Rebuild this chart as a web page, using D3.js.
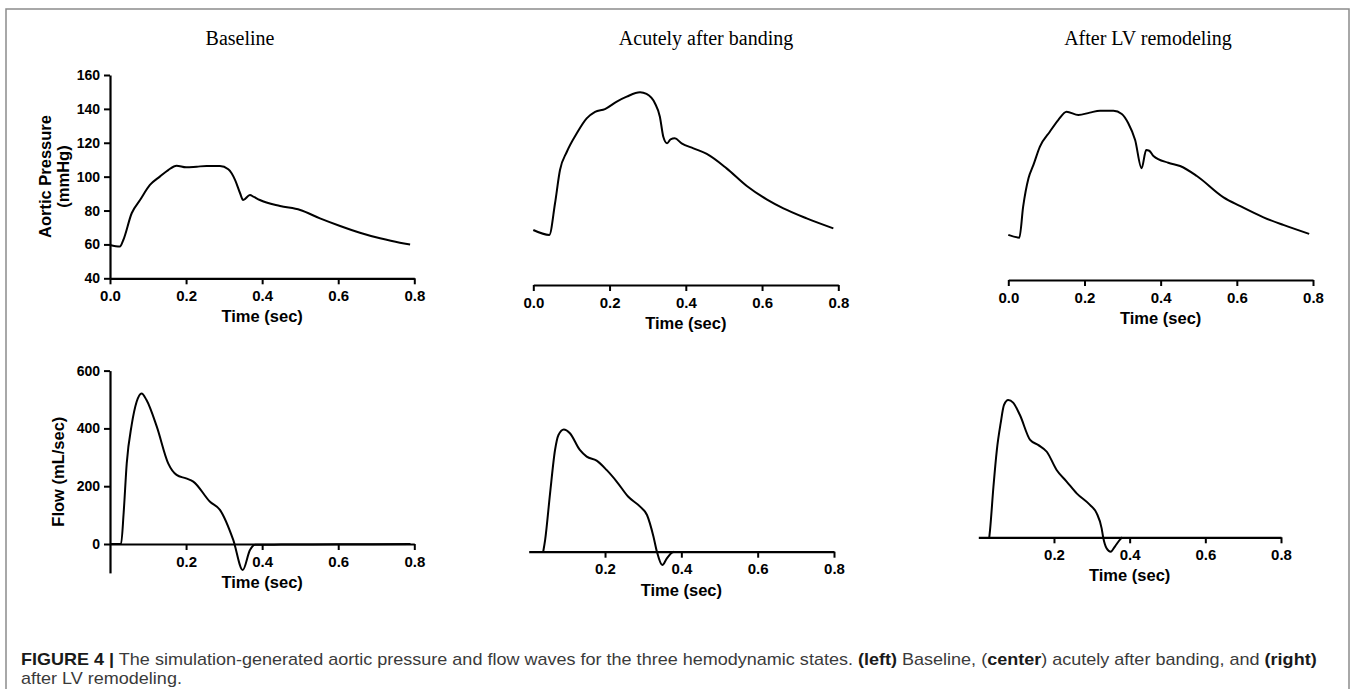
<!DOCTYPE html>
<html><head><meta charset="utf-8">
<script src="https://cdn.jsdelivr.net/npm/d3@7"></script>
<style>body{margin:0;background:#fff}svg{display:block}</style>
</head><body><svg id="c" width="1355" height="689"></svg>
<script>
// ---------- data ----------
const panelTitles = ["Baseline", "Acutely after banding", "After LV remodeling"];
const timeTicksPressure = [0, 0.2, 0.4, 0.6, 0.8];
const timeTicksFlow = [0.2, 0.4, 0.6, 0.8];
const pressureTicks = [40, 60, 80, 100, 120, 140, 160];
const flowTicks = [0, 200, 400, 600];
const xLabel = "Time (sec)";
const pressureLabel = ["Aortic Pressure", "(mmHg)"];
const flowLabel = "Flow (mL/sec)";

// aortic pressure (mmHg) vs time (s)
const timeBaselineP = [0,0.026,0.035,0.057,0.079,0.105,0.131,0.153,0.175,0.2,0.228,0.254,0.289,0.311,0.329,0.342,0.35,0.368,0.377,0.394,0.447,0.5,0.552,0.605,0.657,0.71,0.762,0.789];
const pressureBaseline = [59.7,58.7,62.6,78.4,86.2,95.1,100,103.9,106.5,105.5,105.9,106.3,106.3,104.4,98,90.2,86.2,89.2,88.2,86.2,82.7,80.3,75.4,70.9,66.9,63.6,61,60];

const timeBandingP = [0,0.042,0.057,0.07,0.088,0.114,0.14,0.162,0.188,0.219,0.245,0.28,0.297,0.319,0.332,0.341,0.351,0.36,0.371,0.389,0.42,0.455,0.507,0.56,0.612,0.656,0.717,0.787];
const pressureBanding = [68.5,65.6,84.3,103.9,114.7,125.6,134.4,138.3,139.9,144.3,147.2,149.8,148.8,143.3,135.4,123.6,119.7,122,122.6,119.7,116.7,113.4,104.9,94.5,86.6,81.3,75.4,69.5];

const timeRemodelP = [0,0.029,0.039,0.053,0.066,0.083,0.109,0.131,0.153,0.184,0.214,0.241,0.276,0.298,0.315,0.333,0.35,0.362,0.37,0.381,0.42,0.451,0.495,0.565,0.608,0.67,0.722,0.79];
const pressureRemodel = [65.6,64,82.3,99,106.9,117.7,126.5,133.4,138.3,136.4,137.8,138.9,138.9,137,131.5,121.6,104.9,115.7,115.3,112.2,108.2,106.3,100.4,87.8,82.7,76,71.5,66.2];

// aortic flow (mL/s) vs time (s)
const timeBaselineF = [0,0.029,0.036,0.044,0.057,0.07,0.083,0.096,0.123,0.153,0.175,0.2,0.219,0.263,0.289,0.324,0.349,0.368,0.381,0.45,0.6,0.79];
const flowBaseline = [0,0,110,279,412,492,521,498,406,279,239,227,216,146,118,14,-90,-21,-3,-2,-1,0];

const timeBandingF = [0.038,0.043,0.056,0.069,0.078,0.092,0.108,0.134,0.152,0.178,0.204,0.231,0.261,0.292,0.31,0.327,0.336,0.35,0.362,0.375,0.38];
const flowBanding = [0,40,202,352,404,423,410,352,329,315,283,242,190,156,127,52,0,-46,-23,-3,0];

const timeRemodelF = [0.029,0.031,0.04,0.049,0.059,0.068,0.079,0.092,0.11,0.137,0.159,0.181,0.207,0.234,0.26,0.295,0.313,0.326,0.33,0.339,0.35,0.361,0.375,0.38];
const flowRemodel = [0,25,175,302,394,458,475,466,423,337,319,296,233,192,152,112,83,31,0,-38,-50,-32,-7,0];

const captionLine1 = [
  {t:"FIGURE 4 |", b:true}, {t:" The simulation-generated aortic pressure and flow waves for the three hemodynamic states. ", b:false},
  {t:"(left)", b:true}, {t:" Baseline, (", b:false}, {t:"center", b:true}, {t:") acutely after banding, and ", b:false}, {t:"(right)", b:true}
];
const captionLine2 = "after LV remodeling.";

// ---------- drawing ----------
const svg = d3.select("#c");
svg.append("rect").attr("width",1355).attr("height",689).attr("fill","#fff");
svg.append("path").attr("d","M6,689 V9 H1349 V689").attr("fill","none")
  .attr("stroke","#8c8c8c").attr("stroke-width",1.5);

const SANS = "'Liberation Sans', Arial, Helvetica, sans-serif";
const SERIF = "'Liberation Serif', 'Times New Roman', serif";

const pressureData = [[timeBaselineP,pressureBaseline],[timeBandingP,pressureBanding],[timeRemodelP,pressureRemodel]];
const flowData = [[timeBaselineF,flowBaseline],[timeBandingF,flowBanding],[timeRemodelF,flowRemodel]];

const topLayout = [
  {x0:110, x1:414.3, axisY:278.3},
  {x0:533.3, x1:838.3, axisY:285},
  {x0:1008.3, x1:1313, axisY:280}
];
const botLayout = [
  {x0:110, x1:414.3, zeroY:544},
  {x0:528.7, x1:834, zeroY:551.7},
  {x0:978.3, x1:1281, zeroY:537.3}
];
const titleX = [240, 706, 1148];

const yP = d3.scaleLinear().domain([40,160]).range([278.3,75]);

function styleAxis(g, fs){
  g.select(".domain").attr("stroke","#000").attr("stroke-width",2.2);
  g.selectAll(".tick line").attr("stroke","#000").attr("stroke-width",2);
  g.selectAll(".tick text").attr("fill","#000").style("font-family",SANS)
    .style("font-weight","bold").style("font-size",fs+"px");
}
const lineGen = (x,y)=>d3.line().x(d=>x(d[0])).y(d=>y(d[1])).curve(d3.curveMonotoneX);

function zip(a,b){ return a.map((v,i)=>[v,b[i]]); }

panelTitles.forEach((title,i)=>{
  svg.append("text").attr("x",titleX[i]).attr("y",44.5).attr("text-anchor","middle")
    .style("font-family",SERIF).style("font-size","20px").attr("fill","#000").text(title);

  // pressure panel
  const L = topLayout[i];
  const x = d3.scaleLinear().domain([0,0.8]).range([L.x0,L.x1]);
  const gx = svg.append("g").attr("transform",`translate(0,${L.axisY})`)
    .call(d3.axisBottom(x).tickValues(timeTicksPressure).tickFormat(d3.format(".1f"))
      .tickSize(6).tickPadding(6).tickSizeOuter(0));
  styleAxis(gx,15);
  if(i===0){
    const gy = svg.append("g").attr("transform",`translate(${L.x0},0)`)
      .call(d3.axisLeft(yP).tickValues(pressureTicks).tickSize(6).tickPadding(4).tickSizeOuter(0));
    styleAxis(gy,14);
    const yc = 176.5;
    svg.append("text").attr("transform",`translate(51,${yc}) rotate(-90)`).attr("text-anchor","middle")
      .style("font-family",SANS).style("font-weight","bold").style("font-size","16.5px").text(pressureLabel[0]);
    svg.append("text").attr("transform",`translate(69,${yc}) rotate(-90)`).attr("text-anchor","middle")
      .style("font-family",SANS).style("font-weight","bold").style("font-size","16.5px").text(pressureLabel[1]);
  }
  svg.append("path").datum(zip(pressureData[i][0],pressureData[i][1]))
    .attr("d",lineGen(x,yP)).attr("fill","none").attr("stroke","#000")
    .attr("stroke-width",2).attr("stroke-linejoin","round");
  svg.append("text").attr("x",(L.x0+L.x1)/2).attr("y",L.axisY+44).attr("text-anchor","middle")
    .style("font-family",SANS).style("font-weight","bold").style("font-size","16.5px").text(xLabel);

  // flow panel
  const B = botLayout[i];
  const xf = d3.scaleLinear().domain([0,0.8]).range([B.x0,B.x1]);
  const yF = d3.scaleLinear().domain([-100,600]).range([B.zeroY+28.9, B.zeroY-173.4]);
  const gxf = svg.append("g").attr("transform",`translate(0,${B.zeroY})`)
    .call(d3.axisBottom(xf).tickValues(timeTicksFlow).tickFormat(d3.format(".1f"))
      .tickSize(6).tickPadding(6).tickSizeOuter(0));
  styleAxis(gxf,15);
  if(i===0){
    const gyf = svg.append("g").attr("transform",`translate(${B.x0},0)`)
      .call(d3.axisLeft(yF).tickValues(flowTicks).tickSize(6).tickPadding(4).tickSizeOuter(0));
    styleAxis(gyf,14);
    svg.append("text").attr("transform",`translate(64,471.7) rotate(-90)`).attr("text-anchor","middle")
      .style("font-family",SANS).style("font-weight","bold").style("font-size","16.5px").text(flowLabel);
  }
  svg.append("path").datum(zip(flowData[i][0],flowData[i][1]))
    .attr("d",lineGen(xf,yF)).attr("fill","none").attr("stroke","#000")
    .attr("stroke-width",2).attr("stroke-linejoin","round");
  svg.append("text").attr("x",(B.x0+B.x1)/2).attr("y",B.zeroY+44).attr("text-anchor","middle")
    .style("font-family",SANS).style("font-weight","bold").style("font-size","16.5px").text(xLabel);
});

// caption (condensed sans, fitted to the reference line width)
const cap = svg.append("g");
const t1 = cap.append("text").attr("x",0).attr("y",0)
  .style("font-family",SANS).style("font-size","16px");
captionLine1.forEach(s=>{
  t1.append("tspan").text(s.t).attr("fill", s.b ? "#1a1a1a" : "#3a3a3a")
    .style("font-weight", s.b ? "bold" : "normal");
});
const natural = t1.node().getComputedTextLength();
const sx = 1297 / natural;
t1.attr("transform",`translate(21,664.5) scale(${sx},1)`);
cap.append("text").attr("transform",`translate(21,684) scale(${sx},1)`)
  .style("font-family",SANS).style("font-size","16px").attr("fill","#3a3a3a").text(captionLine2);
</script>
</body></html>
